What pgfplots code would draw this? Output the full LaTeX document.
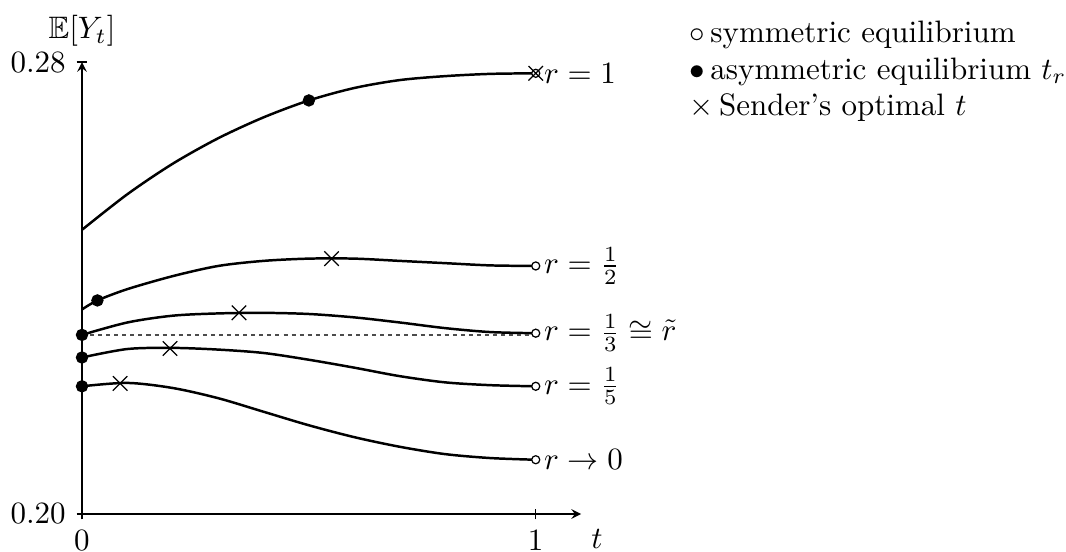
\documentclass[border=0pt]{standalone}
\usepackage{amssymb}
\usepackage{pgfplots}
\pgfplotsset{compat=1.18}

\begin{document}
\begin{tikzpicture}
\useasboundingbox (-26.45pt,-12.26pt) rectangle (317.4pt,165.8pt);
\begin{axis}[
    at={(0,0)}, anchor=south west,
    scale only axis,
    width=161pt, height=145.8pt,
    xmin=0, xmax=1.1, ymin=0.2, ymax=0.28,
    axis lines=left,
    axis line style={thin},
    clip=false,
    xtick={0,1}, ytick={0.2,0.28},
    yticklabel style={/pgf/number format/.cd, fixed, fixed zerofill, precision=2},
    tick align=center,
    major tick length=3.5pt,
    tick style={thin, black},
    xlabel={$t$},
    ylabel={$\mathbb{E}[Y_t]$},
    xlabel style={at={(axis description cs:1.032,0)}, anchor=base, yshift=-11pt},
    ylabel style={rotate=-90, at={(axis description cs:0,1)}, anchor=south, yshift=1.5pt},
]
% r = 1
\addplot[smooth, thick] coordinates {
  (0,0.2503) (0.1,0.2566) (0.2,0.2620) (0.3,0.2665) (0.4,0.2702) (0.5,0.2732)
  (0.6,0.2754) (0.7,0.2768) (0.8,0.2775) (0.9,0.2779) (1,0.2780)
} node[pos=1, anchor=west, xshift=-1pt] {$r=1$};
% r = 1/2
\addplot[smooth, thick] coordinates {
  (0,0.2362) (0.034,0.2378) (0.1,0.2398) (0.2,0.2421) (0.3,0.2439) (0.4,0.2448)
  (0.5,0.2452) (0.6,0.2452) (0.7,0.2448) (0.8,0.2444) (0.9,0.2440) (1,0.2439)
} node[pos=1, anchor=west, xshift=-1pt] {$r=\frac{1}{2}$};
% r = 1/3
\addplot[smooth, thick] coordinates {
  (0,0.2317) (0.1,0.2339) (0.2,0.2351) (0.3,0.2355) (0.4,0.2356) (0.5,0.2354)
  (0.6,0.2348) (0.7,0.2339) (0.8,0.2329) (0.9,0.2322) (1,0.2320)
} node[pos=1, anchor=west, xshift=-1pt] {$r=\frac{1}{3}\cong\tilde{r}$};
% r = 1/5
\addplot[smooth, thick] coordinates {
  (0,0.2277) (0.1,0.2292) (0.2,0.2294) (0.3,0.2291) (0.4,0.2285) (0.5,0.2273)
  (0.6,0.2259) (0.7,0.2244) (0.8,0.2233) (0.9,0.2228) (1,0.2226)
} node[pos=1, anchor=west, xshift=-1pt] {$r=\frac{1}{5}$};
% r -> 0
\addplot[smooth, thick] coordinates {
  (0,0.2226) (0.1,0.2232) (0.2,0.2223) (0.3,0.2205) (0.4,0.2181) (0.5,0.2157)
  (0.6,0.2136) (0.7,0.2119) (0.8,0.2106) (0.9,0.2099) (1,0.2096)
} node[pos=1, anchor=west, xshift=-1pt] {$r\to 0$};
% level of r tilde
\addplot[thin, black!70, dash pattern=on 1.3pt off 1.3pt] coordinates {(0,0.2317) (1,0.2317)};
% symmetric equilibria
\addplot[only marks, mark=*, mark size=1.3pt, mark options={thin, fill=white, draw=black}] coordinates {
  (1,0.2780) (1,0.2439) (1,0.2320) (1,0.2226) (1,0.2096)
};
% asymmetric equilibria
\addplot[only marks, mark=*, mark size=1.8pt, black] coordinates {
  (0.5,0.2732) (0.034,0.2378) (0,0.2317) (0,0.2277) (0,0.2226)
};
% sender's optimal t
\addplot[only marks, mark=x, mark size=3.3pt, mark options={thin}, black] coordinates {
  (1,0.2780) (0.55,0.2452) (0.346,0.2356) (0.194,0.2293) (0.084,0.2231)
};
\node[anchor=base west, inner sep=0pt] at (rel axis cs:1.2164,1.0442) {$\circ$\,symmetric equilibrium};
\node[anchor=base west, inner sep=0pt] at (rel axis cs:1.2164,0.9624) {$\bullet$\,asymmetric equilibrium $t_r$};
\node[anchor=base west, inner sep=0pt] at (rel axis cs:1.2164,0.8827) {$\times$\,Sender's optimal $t$};
\end{axis}
\end{tikzpicture}
\end{document}
